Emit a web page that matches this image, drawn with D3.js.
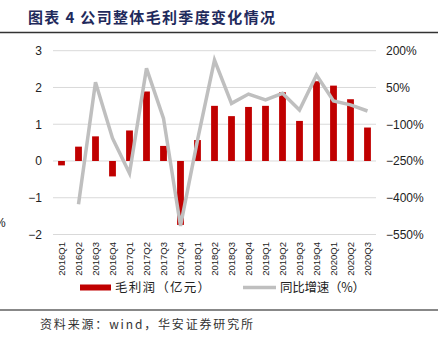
<!DOCTYPE html>
<html>
<head>
<meta charset="utf-8">
<script src="https://cdn.jsdelivr.net/npm/d3@7"></script>
<style>
  body { margin: 0; background: #fff; }
  svg { display: block; }
</style>
</head>
<body>
<div id="container"></div>
<script>
var quarters = ["2016Q1","2016Q2","2016Q3","2016Q4","2017Q1","2017Q2","2017Q3","2017Q4",
  "2018Q1","2018Q2","2018Q3","2018Q4","2019Q1","2019Q2","2019Q3","2019Q4",
  "2020Q1","2020Q2","2020Q3"];
// 毛利润（亿元）
var profit = [-0.12, 0.39, 0.67, -0.42, 0.83, 1.89, 0.41, -1.74,
  0.57, 1.50, 1.22, 1.47, 1.50, 1.87, 1.09, 2.17,
  2.05, 1.68, 0.91];
// 同比增速（%）
var growth = [null, -427, 71, -157, -300, 128, -76, -515,
  -165, 162, -15, 23, -1, 26, -42, 101,
  -5, -21, -46];
var leftTicks = [3, 2, 1, 0, -1, -2];
var rightTicks = [200, 50, -100, -250, -400, -550];

var W = 438, H = 343;
var svg = d3.select("#container").append("svg")
  .attr("width", W).attr("height", H);

var cjk = "'Noto Sans CJK SC', sans-serif";
var latin = "'Liberation Sans', Arial, sans-serif";

// title
svg.append("text")
  .attr("x", 28).attr("y", 23)
  .attr("textLength", 247).attr("lengthAdjust", "spacing")
  .style("font-family", cjk).style("font-weight", "bold")
  .style("font-size", "15px").style("fill", "#1f2a5c")
  .text("图表 4 公司整体毛利季度变化情况");
svg.append("line")
  .attr("x1", 0).attr("x2", W).attr("y1", 32.5).attr("y2", 32.5)
  .style("stroke", "#333").style("stroke-width", 1.5);

var x = d3.scaleBand().domain(quarters).range([53, 376]).paddingInner(0.6).paddingOuter(0.3);
var xc = function(q) { return x(q) + x.bandwidth() / 2; };
var yL = d3.scaleLinear().domain([-2, 3]).range([234.5, 50.7]);
var yR = d3.scaleLinear().domain([-550, 200]).range([234.5, 50.7]);

// grid
svg.append("g").selectAll("line").data(leftTicks).enter().append("line")
  .attr("x1", 53).attr("x2", 376)
  .attr("y1", d => yL(d)).attr("y2", d => yL(d))
  .style("stroke", "#d9d9d9").style("stroke-width", 1);

// left axis
var la = svg.append("g").attr("transform", "translate(42,0)")
  .call(d3.axisLeft(yL).tickValues(leftTicks).tickSize(0).tickPadding(0)
    .tickFormat(d => d < 0 ? "\u2212" + Math.abs(d) : d));
la.select(".domain").remove();
la.selectAll("text").style("font-family", latin)
  .style("font-size", "12px").style("fill", "#222");

// right axis
var ra = svg.append("g").attr("transform", "translate(386,0)")
  .call(d3.axisRight(yR).tickValues(rightTicks).tickSize(0).tickPadding(0)
    .tickFormat(d => (d < 0 ? "\u2212" + Math.abs(d) : d) + "%"));
ra.select(".domain").remove();
ra.selectAll("text").style("font-family", latin)
  .style("font-size", "12px").style("fill", "#222");

// clipped label at far left, as in the source picture
svg.append("text").attr("x", -5).attr("y", 227)
  .style("font-family", latin)
  .style("font-size", "12px").style("fill", "#222").text("%");

// bars
svg.append("g").selectAll("rect").data(quarters).enter().append("rect")
  .attr("x", (d) => x(d))
  .attr("width", x.bandwidth())
  .attr("y", (d, i) => yL(Math.max(0, profit[i])))
  .attr("height", (d, i) => Math.abs(yL(profit[i]) - yL(0)))
  .style("fill", "#c00000");

// line
var line = d3.line()
  .defined(d => d.v !== null)
  .x(d => xc(d.q))
  .y(d => yR(d.v));
svg.append("path")
  .datum(quarters.map((q, i) => ({ q: q, v: growth[i] })))
  .attr("d", line)
  .style("fill", "none").style("stroke", "#bfbfbf")
  .style("stroke-width", 3.5).style("stroke-linejoin", "miter");

// x labels
svg.append("g").selectAll("text").data(quarters).enter().append("text")
  .attr("transform", d => "translate(" + (xc(d) + 3.5) + ",242) rotate(-90)")
  .attr("text-anchor", "end")
  .style("font-family", latin)
  .style("font-size", "9.5px").style("fill", "#222")
  .text(d => d);

// legend
var lg = svg.append("g");
lg.append("rect").attr("x", 80).attr("y", 284.5).attr("width", 31).attr("height", 6)
  .style("fill", "#c00000");
lg.append("text").attr("x", 115).attr("y", 292)
  .attr("textLength", 95).attr("lengthAdjust", "spacing")
  .style("font-family", cjk).style("font-size", "12.5px").style("fill", "#222")
  .text("毛利润（亿元）");
lg.append("line").attr("x1", 243).attr("x2", 276).attr("y1", 287.5).attr("y2", 287.5)
  .style("stroke", "#bfbfbf").style("stroke-width", 3.5);
lg.append("text").attr("x", 280).attr("y", 292)
  .attr("textLength", 85).attr("lengthAdjust", "spacing")
  .style("font-family", cjk).style("font-size", "12.5px").style("fill", "#222")
  .text("同比增速（%）");

// footer
svg.append("line")
  .attr("x1", 0).attr("x2", W).attr("y1", 310).attr("y2", 310)
  .style("stroke", "#888").style("stroke-width", 2);
svg.append("text").attr("x", 40).attr("y", 329)
  .attr("textLength", 213).attr("lengthAdjust", "spacing")
  .style("font-family", cjk).style("font-size", "12px").style("fill", "#333")
  .text("资料来源：wind，华安证券研究所");
</script>
</body>
</html>
